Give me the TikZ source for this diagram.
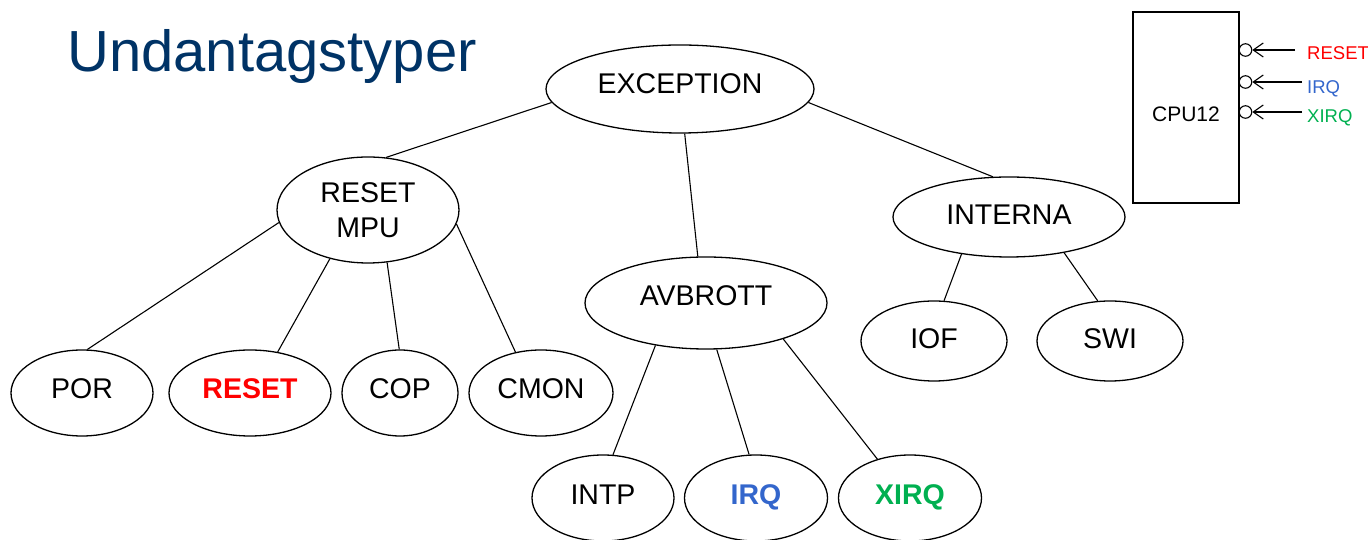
\documentclass[tikz,border=0pt]{standalone}
\usepackage{fontspec}
\setmainfont{Liberation Sans}
\usetikzlibrary{shapes.geometric,arrows.meta}
\definecolor{titleblue}{RGB}{0,51,102}
\definecolor{irqblue}{RGB}{51,102,204}
\definecolor{xirqgreen}{RGB}{0,176,80}
\definecolor{resetred}{RGB}{255,0,0}
\begin{document}
\begin{tikzpicture}[x=1pt,y=1pt,
  ell/.style={ellipse, draw, line width=1.3pt, inner sep=0pt, font=\fontsize{28.5}{35}\selectfont},
  capd/.style={text height=20.4pt, text depth=#1},
  conn/.style={line width=1.1pt},
  pin/.style={circle, draw, line width=1.1pt, minimum size=12.5pt, inner sep=0pt},
  sig/.style={line width=1.1pt, -{Straight Barb[length=10pt,width=14pt]}},
  lab/.style={anchor=west, inner sep=0pt, font=\fontsize{18.5}{22}\selectfont, text height=13pt, text depth=0pt}]
\useasboundingbox (0,0) rectangle (1368,540);

% title
\node[anchor=base west, inner sep=0pt, text=titleblue, font=\fontsize{58}{70}\selectfont] (title) at (67,468) {Undantagstyper};

% tree nodes
\node[ell, capd=12pt, minimum width=268pt, minimum height=88pt] (exc) at (680,451) {EXCEPTION};
\node[ell, align=center, minimum width=182pt, minimum height=106pt] (mpu) at (368,330) {RESET\\MPU};
\node[ell, capd=16pt, minimum width=242pt, minimum height=92pt] (avb) at (706,237) {AVBROTT};
\node[ell, capd=6pt, minimum width=232pt, minimum height=80pt] (int) at (1009,323) {INTERNA};
\node[ell, capd=6pt, minimum width=146pt, minimum height=80pt] (iof) at (934,199) {IOF};
\node[ell, capd=6pt, minimum width=146pt, minimum height=80pt] (swi) at (1110,199) {SWI};
\node[ell, capd=10pt, minimum width=142pt, minimum height=86pt] (por) at (82,147) {POR};
\node[ell, capd=10pt, minimum width=162pt, minimum height=86pt, text=resetred, font=\fontsize{28.5}{35}\selectfont\bfseries] (rst) at (250,147) {RESET};
\node[ell, capd=10pt, minimum width=116pt, minimum height=86pt] (cop) at (400,147) {COP};
\node[ell, capd=10pt, minimum width=144pt, minimum height=86pt] (cmon) at (541,147) {CMON};
\node[ell, capd=8pt, minimum width=142pt, minimum height=86pt] (intp) at (603,42) {INTP};
\node[ell, capd=8pt, minimum width=143pt, minimum height=86pt, text=irqblue, font=\fontsize{28.5}{35}\selectfont\bfseries] (irq) at (756,42) {IRQ};
\node[ell, capd=8pt, minimum width=143pt, minimum height=86pt, text=xirqgreen, font=\fontsize{28.5}{35}\selectfont\bfseries] (xirq) at (910,42) {XIRQ};

% connectors
\draw[conn] (exc.186) -- (mpu.71);
\draw[conn] (exc.276) -- (avb.100);
\draw[conn] (exc.354) -- (int.112);
\draw[conn] (mpu.188) -- (por.83);
\draw[conn] (mpu.232) -- (rst.56);
\draw[conn] (mpu.290) -- (cop.91);
\draw[conn] (mpu.351) -- (cmon.122);
\draw[conn] (avb.220) -- (intp.77);
\draw[conn] (avb.283) -- (irq.99);
\draw[conn] (avb.335) -- (xirq.130);
\draw[conn] (int.218) -- (iof.76);
\draw[conn] (int.327) -- (swi.107);

% CPU12 block
\node[draw, line width=1.3pt, minimum width=106pt, minimum height=191pt, inner sep=0pt,
      font=\fontsize{21}{25}\selectfont, text height=28pt, text depth=0pt] (cpu) at (1186,432.5) {CPU12};
\node[pin] (c1) at (1245.5,490) {};
\node[pin] (c2) at (1245.5,458) {};
\node[pin] (c3) at (1245.5,428) {};
\node[lab, text=resetred] (lr) at (1307,487) {RESET};
\node[lab, text=irqblue] (li) at (1307,452.5) {IRQ};
\node[lab, text=xirqgreen] (lx) at (1307,424) {XIRQ};
\coordinate (s1) at (1295,490);
\coordinate (s2) at (1302,458);
\coordinate (s3) at (1302,428);
\draw[sig] (s1) -- (c1.east);
\draw[sig] (s2) -- (c2.east);
\draw[sig] (s3) -- (c3.east);
\end{tikzpicture}
\end{document}
